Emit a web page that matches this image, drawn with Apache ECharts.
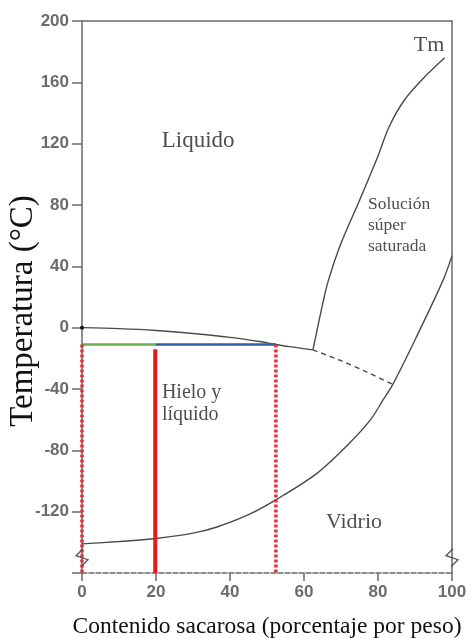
<!DOCTYPE html>
<html><head><meta charset="utf-8">
<script src="https://cdn.jsdelivr.net/npm/echarts@6/dist/echarts.min.js"></script>
<style>html,body{margin:0;padding:0;background:#fff}#c{width:472px;height:638px}</style>
</head><body><div id="c"></div>
<script>
// x ticks and y ticks
const xTicks = [0, 20, 40, 60, 80, 100];
const yTicks = [-120, -80, -40, 0, 40, 80, 120, 160, 200];
// freezing (ice) curve, solid
const freezeX = [0, 10, 20, 30, 40, 48, 52, 56, 62.4];
const freezeY = [0, -0.6, -1.8, -3.8, -6.3, -9, -10.8, -12.4, -14.5];
// dashed continuation
const freezeDashX = [62.4, 70, 77, 84];
const freezeDashY = [-14.5, -21.5, -29, -37];
// Tm (solubility) curve
const tmX = [62.4, 63.5, 65, 66.5, 70, 75, 80, 83, 87, 92, 98];
const tmY = [-14.5, -2, 15, 30, 55, 83, 112, 131, 148, 162, 176];
// Tg (glass) curve
const tgX = [0, 10, 20, 30, 36.5, 45, 52.6, 63.5, 72, 78, 81.4, 84, 90, 97.6, 100];
const tgY = [-141, -139.5, -137.5, -134, -130, -122, -112, -95, -76, -60, -47, -37, -8, 31, 47];
// horizontal tie line
const greenX = [0, 20], greenY = [-11, -11];
const blueX = [20, 52.4], blueY = [-11, -11];
// verticals
const dot1X = [0, 0], dot1Y = [-11, -160];
const redX = [19.8, 19.8], redY = [-14, -160];
const dot2X = [52.4, 52.4], dot2Y = [-11, -160];

const zip = (a, b) => a.map((v, i) => [v, b[i]]);

const labels = [
  {t: 'Liquido', x: 31.4, y: 122, align: 'center', size: 23},
  {t: 'Tm', x: 93.8, y: 184, align: 'center', size: 22},
  {t: 'Solución\nsúper\nsaturada', x: 77.3, y: 67, align: 'left', size: 17.5, lh: 21},
  {t: 'Hielo y\nlíquido', x: 21.6, y: -49.4, align: 'left', size: 20, lh: 22},
  {t: 'Vidrio', x: 73.5, y: -127, align: 'center', size: 22}
];

const chart = echarts.init(document.getElementById('c'));
const curve = '#4a4a4a';
const axisCol = '#6a6a6a';
const lineS = (name, x, y, color, width, type, smooth) => ({
  name, type: 'line', data: zip(x, y), symbol: 'none', smooth: smooth ? 0.3 : false,
  lineStyle: {color, width, type}, z: 3, silent: true
});
const tickLabel = {color: '#6b6b6b', fontFamily: 'Liberation Sans, Arial', fontSize: 17, fontWeight: 'bold'};
const freezeSeries = lineS('freeze', freezeX, freezeY, curve, 1.4, 'solid', true);
freezeSeries.data[0] = {value: freezeSeries.data[0], symbol: 'circle', symbolSize: 4, itemStyle: {color: '#111'}};
chart.setOption({
  animation: false,
  grid: {left: 82, right: 20, top: 21, bottom: 65, show: false, containLabel: false, outerBoundsMode: 'none'},
  xAxis: [{
    type: 'value', min: 0, max: 100, interval: 20,
    axisLine: {show: true, onZero: false, lineStyle: {color: axisCol, width: 1.5, type: [5, 2]}},
    axisTick: {show: true, length: 8, lineStyle: {color: axisCol, width: 1.5}},
    axisLabel: Object.assign({margin: 11}, tickLabel),
    splitLine: {show: false},
    name: 'Contenido sacarosa (porcentaje por peso)', nameLocation: 'middle', nameGap: 42, nameMoveOverlap: false,
    nameTextStyle: {fontFamily: 'Liberation Serif', fontSize: 23.5, color: '#111'}
  }, {
    type: 'value', min: 0, max: 100, position: 'top',
    axisLine: {show: true, onZero: false, lineStyle: {color: axisCol, width: 1.5}},
    axisTick: {show: false}, axisLabel: {show: false}, splitLine: {show: false}
  }],
  yAxis: [{
    type: 'value', min: -160, max: 200, interval: 40,
    axisLine: {show: true, onZero: false, lineStyle: {color: axisCol, width: 1.5}},
    axisTick: {show: true, length: 10, lineStyle: {color: axisCol, width: 1.5}},
    axisLabel: Object.assign({margin: 13, formatter: v => yTicks.includes(v) ? String(v) : ''}, tickLabel),
    splitLine: {show: false},
    name: 'Temperatura (°C)', nameLocation: 'middle', nameGap: 42, nameRotate: 90, nameMoveOverlap: false,
    nameTextStyle: {fontFamily: 'Liberation Serif', fontSize: 33, color: '#111', padding: [0, 28, 0, 0]}
  }, {
    type: 'value', min: -160, max: 200, position: 'right',
    axisLine: {show: true, onZero: false, lineStyle: {color: axisCol, width: 1.5}},
    axisTick: {show: false}, axisLabel: {show: false}, splitLine: {show: false}
  }],
  series: [
    Object.assign(freezeSeries, {showSymbol: true}),
    lineS('freezeDash', freezeDashX, freezeDashY, curve, 1.4, [5, 4], true),
    lineS('tm', tmX, tmY, curve, 1.4, 'solid', true),
    lineS('tg', tgX, tgY, curve, 1.4, 'solid', true),
    lineS('green', greenX, greenY, '#6ab04c', 2.5, 'solid', false),
    lineS('blue', blueX, blueY, '#2f5fa5', 2.5, 'solid', false),
    Object.assign(lineS('dot1', dot1X, dot1Y, '#e0303a', 3.5, [3, 2], false), {z: 5}),
    Object.assign(lineS('red', redX, redY, '#e31b1b', 4, 'solid', false), {z: 5}),
    Object.assign(lineS('dot2', dot2X, dot2Y, '#e0303a', 3.5, [3, 2], false), {z: 5}),
    {
      type: 'scatter', symbolSize: 0, silent: true, z: 6,
      data: labels.map(l => ({
        value: [l.x, l.y],
        label: {show: true, position: 'inside', formatter: l.t, align: l.align, verticalAlign: 'middle',
          fontFamily: 'Liberation Serif', fontSize: l.size, lineHeight: l.lh || l.size * 1.2, color: '#222'}
      }))
    }
  ]
});

// axis break zigzags
const p1 = chart.convertToPixel({gridIndex: 0}, [0, -150]);
const p2 = chart.convertToPixel({gridIndex: 0}, [100, -150]);
const zig = (x, y) => ({
  type: 'polyline', silent: true, z: 10,
  shape: {points: [[x + 1, y - 9], [x - 6, y - 2], [x + 6, y + 2], [x - 1, y + 9]]},
  style: {stroke: '#555', lineWidth: 1.3, fill: null}
});
chart.setOption({graphic: [zig(p1[0], p1[1]), zig(p2[0], p2[1])]});
</script></body></html>
